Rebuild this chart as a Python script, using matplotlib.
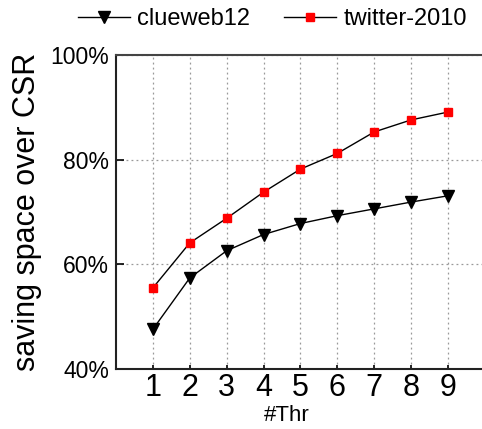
import matplotlib
matplotlib.use("Agg")
import matplotlib.pyplot as plt
from matplotlib.ticker import FuncFormatter

plt.rcParams["font.family"] = ["Liberation Sans", "DejaVu Sans"]

threads = [1, 2, 3, 4, 5, 6, 7, 8, 9]
clueweb12 = [47.6, 57.4, 62.6, 65.7, 67.8, 69.3, 70.6, 71.9, 73.1]
twitter2010 = [55.5, 64.1, 68.8, 73.8, 78.2, 81.2, 85.3, 87.6, 89.1]
y_ticks = [40, 60, 80, 100]

fig = plt.figure(figsize=(4.82, 4.29), dpi=100)
ax = fig.add_axes([116 / 482, 1 - 369 / 429, 1 - 116 / 482, (369 - 55) / 429])

ax.plot(threads, clueweb12, color="black", lw=1, marker="v", ms=8,
        mfc="black", mec="black", label="clueweb12")
ax.plot(threads, twitter2010, color="black", lw=1, marker="s", ms=6,
        mfc="red", mec="red", label="twitter-2010")

ax.set_xlim(0, 9.92)
ax.set_ylim(40, 100)
ax.set_xticks(threads)
ax.set_yticks(y_ticks)
ax.yaxis.set_major_formatter(FuncFormatter(lambda v, _: f"{v:.0f}%"))
ax.grid(True, color="#999999", linestyle=(0, (1.5, 2.5)), linewidth=0.9)
ax.tick_params(axis="x", direction="in", length=3, width=1.2, labelsize=22, pad=3)
ax.tick_params(axis="y", direction="in", length=6, width=1.2, labelsize=16.5, pad=5)

ax.spines["right"].set_visible(False)
for side in ("left", "top", "bottom"):
    ax.spines[side].set_linewidth(1.5)
    ax.spines[side].set_color("#222222")
ax.spines["top"].set_color("#444444")

ax.set_xlabel("#Thr", fontsize=16, labelpad=0)
ax.xaxis.set_label_coords(0.467, -0.115)
ax.set_ylabel("saving space over CSR", fontsize=22, labelpad=6)

fig.legend(loc="upper center", bbox_to_anchor=(0.565, 1.03), ncol=2,
           frameon=False, fontsize=17, handlelength=2.2, columnspacing=1.45,
           handletextpad=0.3)

fig.savefig("out.png", dpi=100)
